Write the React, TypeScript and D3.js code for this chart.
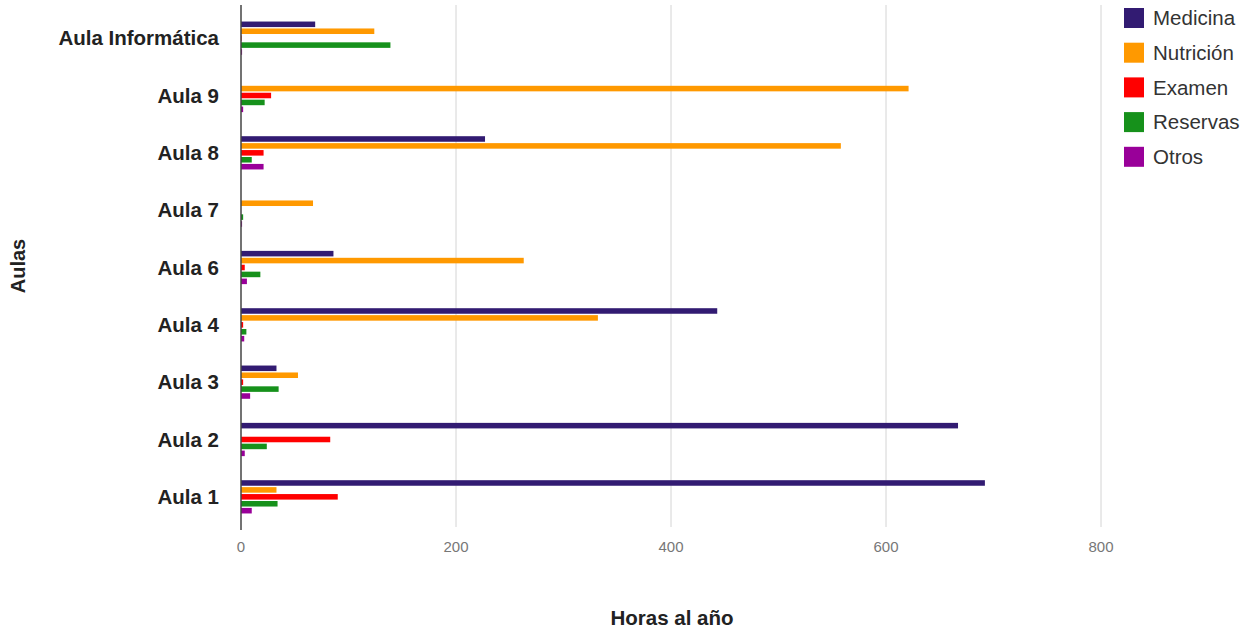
import React from "react";
import * as d3 from "d3";

const categories = ["Aula Informática", "Aula 9", "Aula 8", "Aula 7", "Aula 6", "Aula 4", "Aula 3", "Aula 2", "Aula 1"];
const seriesNames = ["Medicina", "Nutrición", "Examen", "Reservas", "Otros"];
const medicina = [69, 0, 227, 0, 86, 443, 33, 667, 692];
const nutricion = [124, 621, 558, 67, 263, 332, 53, 0, 33];
const examen = [0.5, 28, 21, 0, 3.5, 2, 2, 83, 90];
const reservas = [139, 22, 10, 2, 18, 5, 35, 24, 34];
const otros = [1, 2, 21, 1, 5.5, 3, 8.5, 3.5, 10];
const xTicks = [0, 200, 400, 600, 800];
const colors = ["#321b72", "#ff9900", "#ff0000", "#16911b", "#990099"];

const seriesValues = [medicina, nutricion, examen, reservas, otros];

const W = 1253;
const H = 634;
const left = 241;
const right = 1101;
const top = 9.5;
const bottom = 525.5;
const font = "'Liberation Sans', Arial, sans-serif";

export default function App() {
  const x = d3.scaleLinear().domain([0, 800]).range([left, right]);
  const y = d3.scaleBand<string>().domain(categories).range([top, bottom]).paddingInner(0.42).paddingOuter(0.21);
  const inner = d3.scaleBand<string>().domain(seriesNames).range([0, y.bandwidth()]).paddingInner(0.2);

  return (
    <svg width={W} height={H} style={{ position: "absolute", left: 0, top: 0, background: "#fff" }}>
      {xTicks.map((t) => (
        <g key={t}>
          {t !== 0 && <line x1={x(t)} x2={x(t)} y1={5} y2={527} stroke="#d4d4d4" strokeWidth={1} />}
          <text x={x(t)} y={552} textAnchor="middle" fontFamily={font} fontSize={15} fill="#777">
            {t}
          </text>
        </g>
      ))}
      {categories.map((c, i) => (
        <g key={c}>
          {seriesValues.map((vals, s) => {
            const v = vals[i];
            if (v <= 0) return null;
            return (
              <rect
                key={s}
                x={x(0)}
                y={(y(c) as number) + (inner(seriesNames[s]) as number)}
                width={x(v) - x(0)}
                height={inner.bandwidth()}
                fill={colors[s]}
              />
            );
          })}
          <text
            x={219}
            y={(y(c) as number) + y.bandwidth() / 2}
            dy="0.35em"
            textAnchor="end"
            fontFamily={font}
            fontWeight="bold"
            fontSize={20.5}
            fill="#222"
          >
            {c}
          </text>
        </g>
      ))}
      <line x1={x(0)} x2={x(0)} y1={5} y2={530} stroke="#444" strokeWidth={1.5} />
      <text x={672} y={625} textAnchor="middle" fontFamily={font} fontWeight="bold" fontSize={20.5} fill="#222">
        Horas al año
      </text>
      <text
        transform="translate(25,266) rotate(-90)"
        textAnchor="middle"
        fontFamily={font}
        fontWeight="bold"
        fontSize={20}
        fill="#222"
      >
        Aulas
      </text>
      {seriesNames.map((n, s) => (
        <g key={n} transform={`translate(1124,${8 + s * 34.7})`}>
          <rect x={0} y={0} width={20} height={20} fill={colors[s]} />
          <text x={29} y={10} dy="0.35em" fontFamily={font} fontSize={20.5} fill="#333">
            {n}
          </text>
        </g>
      ))}
    </svg>
  );
}
